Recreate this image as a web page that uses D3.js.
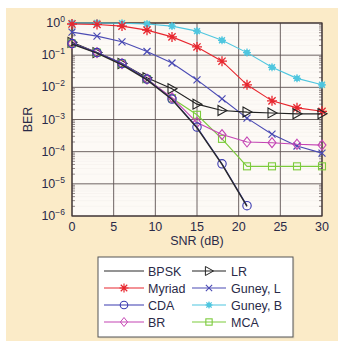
<!DOCTYPE html>
<html>
<head>
<meta charset="utf-8">
<script src="https://cdn.jsdelivr.net/npm/d3@7"></script>
<style>
  body { margin: 0; background: #fff; }
  text { font-family: "Liberation Sans", Arial, sans-serif; }
</style>
</head>
<body>
<div id="chart"></div>
<script>
// SNR points (dB), markers every 3 dB
var snr = [0, 3, 6, 9, 12, 15, 18, 21, 24, 27, 30];
var bpsk   = [0.22, 0.115, 0.05, 0.017, 0.0042, 5.5e-4, 4e-5, 2e-6];
var cda    = [0.23, 0.12, 0.055, 0.018, 0.0043, 5.8e-4, 4.2e-5, 2.1e-6];
var br     = [0.23, 0.12, 0.055, 0.018, 0.0048, 8e-4, 3.4e-4, 2e-4, 1.9e-4, 1.7e-4, 1.6e-4];
var mca    = [0.23, 0.12, 0.055, 0.018, 0.0046, 1.4e-3, 2.5e-4, 3.5e-5, 3.5e-5, 3.5e-5, 3.5e-5];
var lr     = [0.25, 0.12, 0.055, 0.02, 0.009, 0.003, 0.0019, 0.0017, 0.0016, 0.0015, 0.0015];
var myriad = [0.93, 0.9, 0.8, 0.6, 0.37, 0.18, 0.065, 0.012, 0.0038, 0.0023, 0.0018];
var guneyL = [0.52, 0.39, 0.26, 0.13, 0.057, 0.017, 0.0044, 0.0011, 3.5e-4, 1.5e-4, 9e-5];
var guneyB = [1.0, 1.0, 0.98, 0.93, 0.8, 0.56, 0.29, 0.12, 0.042, 0.019, 0.012];
var xTicks = [0, 5, 10, 15, 20, 25, 30];
var yTicks = [0, -1, -2, -3, -4, -5, -6];

var series = [
  { name: "BPSK",     vals: bpsk,   color: "#2a2a2a", marker: "none" },
  { name: "LR",       vals: lr,     color: "#222222", marker: "tri" },
  { name: "Myriad",   vals: myriad, color: "#e8262e", marker: "star" },
  { name: "Guney, L", vals: guneyL, color: "#4b4bb4", marker: "x" },
  { name: "CDA",      vals: cda,    color: "#3a3ab0", marker: "circle" },
  { name: "Guney, B", vals: guneyB, color: "#4fc6df", marker: "dot" },
  { name: "BR",       vals: br,     color: "#c445b4", marker: "diamond" },
  { name: "MCA",      vals: mca,    color: "#7ccb3c", marker: "square" }
];

var W = 338, H = 341;
var margin = { top: 23, right: 16, bottom: 125, left: 72 },
    width = 322 - margin.left,
    height = 216 - margin.top;

var svg = d3.select("#chart").append("svg")
    .attr("width", W)
    .attr("height", H);

// beige backdrop
svg.append("rect").attr("x", 6).attr("y", 8).attr("width", W - 6).attr("height", H - 8)
    .attr("fill", "#fbebc8");

var g = svg.append("g")
    .attr("transform", "translate(" + margin.left + "," + margin.top + ")");

var x = d3.scaleLinear().domain([0, 30]).range([0, width]);
var y = d3.scaleLog().domain([1e-6, 1]).range([height, 0]);

g.append("rect").attr("width", width).attr("height", height).attr("fill", "#fdfaf6");

// minor grid (very faint)
var minor = [];
for (var e = -6; e < 0; e++) for (var m = 2; m < 10; m++) minor.push(m * Math.pow(10, e));
g.selectAll(".minor").data(minor).enter().append("line")
    .attr("x1", 0).attr("x2", width)
    .attr("y1", d => y(d)).attr("y2", d => y(d))
    .attr("stroke", "#f3eeea").attr("stroke-width", 0.5);
// minor ticks left / right
g.selectAll(".mtick").data(minor).enter().append("line")
    .attr("x1", 0).attr("x2", 3)
    .attr("y1", d => y(d)).attr("y2", d => y(d))
    .attr("stroke", "#6a5c5c").attr("stroke-width", 0.7);
g.selectAll(".mtickr").data(minor).enter().append("line")
    .attr("x1", width - 3).attr("x2", width)
    .attr("y1", d => y(d)).attr("y2", d => y(d))
    .attr("stroke", "#6a5c5c").attr("stroke-width", 0.7);

// major grid
g.selectAll(".vg").data(xTicks).enter().append("line")
    .attr("x1", d => x(d)).attr("x2", d => x(d))
    .attr("y1", 0).attr("y2", height)
    .attr("stroke", "#5e5252").attr("stroke-width", 0.9);
g.selectAll(".hg").data(yTicks).enter().append("line")
    .attr("x1", 0).attr("x2", width)
    .attr("y1", d => y(Math.pow(10, d))).attr("y2", d => y(Math.pow(10, d)))
    .attr("stroke", "#5e5252").attr("stroke-width", 0.9);

g.append("rect").attr("width", width).attr("height", height)
    .attr("fill", "none").attr("stroke", "#3e3434").attr("stroke-width", 1.2);

// tick labels
g.selectAll(".xl").data(xTicks).enter().append("text")
    .attr("x", d => x(d)).attr("y", height + 15)
    .attr("text-anchor", "middle").attr("font-size", 12.5).attr("fill", "#2a2a48")
    .text(d => d);
var yl = g.selectAll(".yl").data(yTicks).enter().append("text")
    .attr("x", -7).attr("y", d => y(Math.pow(10, d)) + 4)
    .attr("text-anchor", "end").attr("font-size", 12.5).attr("fill", "#2a2a48");
yl.append("tspan").text("10");
yl.append("tspan").attr("dy", -5).attr("font-size", 8.5).text(d => d === 0 ? "0" : "\u2212" + (-d));

g.append("text").attr("x", width / 2).attr("y", height + 29)
    .attr("text-anchor", "middle").attr("font-size", 12.5).attr("fill", "#2a2a48")
    .text("SNR (dB)");
g.append("text").attr("transform", "translate(-40," + (y(1e-3)) + ") rotate(-90)")
    .attr("text-anchor", "middle").attr("font-size", 12.5).attr("fill", "#2a2a48")
    .text("BER");

function drawMarker(sel, type, color, s) {
  s = s || 1;
  if (type === "circle") sel.append("circle").attr("r", 4.2 * s).attr("fill", "none").attr("stroke", color).attr("stroke-width", 1.1);
  if (type === "square") sel.append("rect").attr("x", -3.5 * s).attr("y", -3.5 * s).attr("width", 7 * s).attr("height", 7 * s).attr("fill", "none").attr("stroke", color).attr("stroke-width", 1.1);
  if (type === "diamond") sel.append("path").attr("d", "M0,-5L4,0L0,5L-4,0Z").attr("transform", "scale(" + s + ")").attr("fill", "none").attr("stroke", color).attr("stroke-width", 1.1);
  if (type === "tri") sel.append("path").attr("d", "M-4,-5L5,0L-4,5Z").attr("transform", "scale(" + s + ")").attr("fill", "none").attr("stroke", color).attr("stroke-width", 1.1);
  if (type === "x") sel.append("path").attr("d", "M-3.5,-3.5L3.5,3.5M-3.5,3.5L3.5,-3.5").attr("transform", "scale(" + s + ")").attr("stroke", color).attr("stroke-width", 1.2);
  if (type === "star") sel.append("path").attr("d", "M-5,0L5,0M0,-5L0,5M-3.6,-3.6L3.6,3.6M-3.6,3.6L3.6,-3.6").attr("transform", "scale(" + s + ")").attr("stroke", color).attr("stroke-width", 1.3);
  if (type === "dot") {
    sel.append("path").attr("d", "M-4,0L4,0M0,-4L0,4M-3,-3L3,3M-3,3L3,-3").attr("transform", "scale(" + s + ")").attr("stroke", color).attr("stroke-width", 1.2);
    sel.append("circle").attr("r", 2.8 * s).attr("fill", color);
  }
}

var line = d3.line().x(d => x(d[0])).y(d => y(d[1]));

// draw order: background series first, black BPSK on top of CDA
var order = ["Guney, B", "Myriad", "Guney, L", "LR", "MCA", "BR", "CDA", "BPSK"];
order.forEach(function (nm) {
  var s = series.find(d => d.name === nm);
  var pts = s.vals.map((v, i) => [snr[i], v]);
  g.append("path").datum(pts).attr("d", line)
      .attr("fill", "none").attr("stroke", s.color).attr("stroke-width", nm === "BPSK" ? 1.4 : 1.1);
  if (s.marker !== "none") {
    g.selectAll(null).data(pts).enter().append("g")
        .attr("transform", d => "translate(" + x(d[0]) + "," + y(d[1]) + ")")
        .each(function () { drawMarker(d3.select(this), s.marker, s.color); });
  }
});

// legend
var leg = svg.append("g").attr("transform", "translate(98,257)");
leg.append("rect").attr("x", 1.5).attr("y", 1.5).attr("width", 195).attr("height", 80)
    .attr("fill", "#e8dcc0");
leg.append("rect").attr("width", 195).attr("height", 80)
    .attr("fill", "#ffffff").attr("stroke", "#555").attr("stroke-width", 1);
series.forEach(function (s, i) {
  var col = i % 2, row = Math.floor(i / 2);
  var lx = col === 0 ? 6 : 94, ly = 14 + row * 17;
  var it = leg.append("g").attr("transform", "translate(" + lx + "," + ly + ")");
  it.append("line").attr("x1", 0).attr("x2", col === 0 ? 40 : 34).attr("y1", 0).attr("y2", 0)
      .attr("stroke", s.color).attr("stroke-width", 1.1);
  if (s.marker !== "none") {
    var mg = it.append("g").attr("transform", "translate(" + (col === 0 ? 20 : 17) + ",0)");
    drawMarker(mg, s.marker, s.color, 0.9);
  }
  it.append("text").attr("x", col === 0 ? 44 : 39).attr("y", 4.5)
      .attr("font-size", 12.5).attr("fill", "#2a2a48").text(s.name);
});
</script>
</body>
</html>
